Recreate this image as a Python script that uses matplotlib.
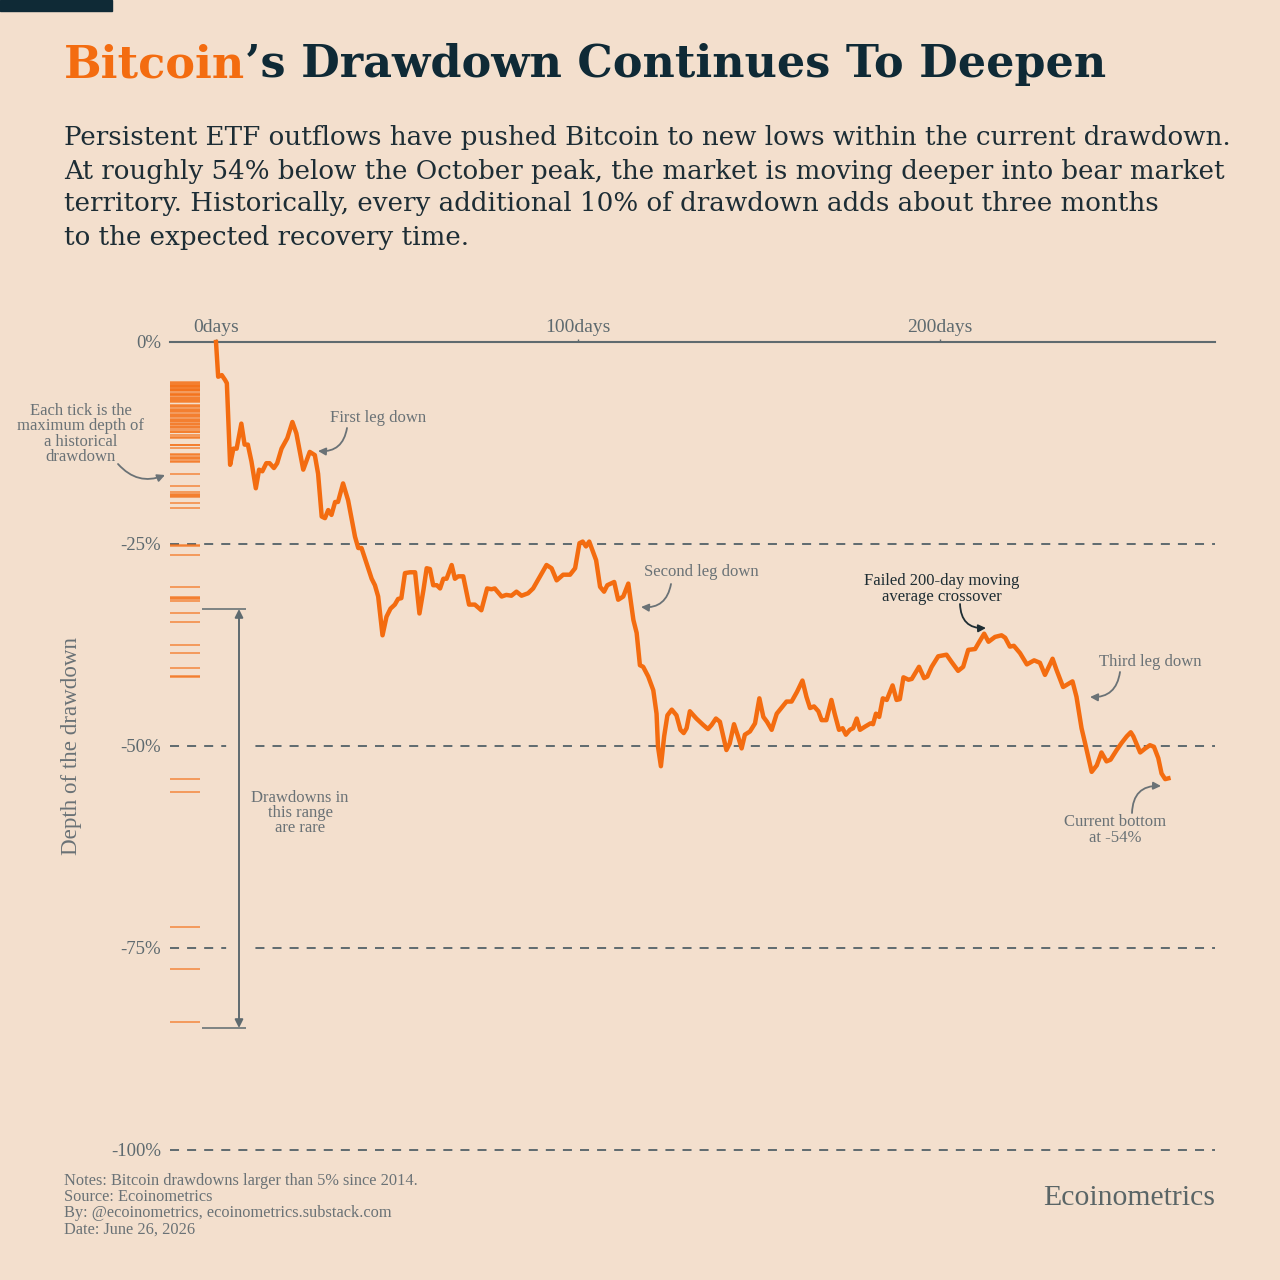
import matplotlib
matplotlib.use("Agg")
import matplotlib.pyplot as plt
from matplotlib.patches import Rectangle

# drawdown path of the current cycle (days since peak, % below peak)
days = [0, 0.6, 1.6, 2.5, 3.0, 3.9, 4.8, 5.7, 7.0, 7.9, 8.8, 9.8, 11.0, 11.9, 12.8,
        13.9, 14.8, 16.0, 16.9, 18.1, 19.7, 21.1, 22.2, 24.1, 25.9, 27.3, 28.2, 29.2,
        30.1, 31.0, 31.9, 32.9, 33.7, 35.1, 36.5, 38.4, 39.3, 40.2, 43.0, 43.9, 44.8,
        46.0, 47.1, 48.2, 49.4, 50.3, 51.2, 52.2, 53.6, 55.0, 56.2, 57.3, 58.2, 59.1,
        60.0, 61.0, 61.9, 62.8, 63.7, 65.1, 66.0, 66.9, 68.3, 69.9, 71.5, 73.3, 74.9,
        76.1, 77.0, 78.9, 80.2, 81.6, 83.0, 84.4, 86.2, 87.6, 89.5, 91.3, 92.7, 94.1,
        95.9, 97.8, 99.2, 100.4, 101.3, 102.2, 103.1, 105.0, 106.1, 107.2, 108.1, 110.0,
        111.1, 112.5, 113.9, 115.3, 116.2, 117.1, 118.0, 119.4, 120.8, 121.7, 122.1,
        122.9, 123.8, 124.7, 125.9, 127.2, 128.3, 129.2, 130.0, 130.9, 132.7, 134.6,
        135.9, 136.9, 138.1, 139.2, 141.0, 141.9, 143.1, 144.2, 145.2, 146.1, 147.5,
        148.9, 150.1, 151.2, 152.2, 153.5, 154.9, 156.5, 157.6, 159.0, 160.5, 162.0,
        163.1, 164.1, 165.2, 166.4, 167.3, 168.6, 170.0, 170.9, 172.1, 173.1, 174.0,
        175.1, 176.0, 177.0, 177.9, 179.3, 180.8, 181.5, 182.3, 183.2, 184.2, 185.3,
        186.9, 188.0, 188.9, 189.9, 191.3, 192.2, 194.2, 195.6, 196.5, 197.7, 199.5,
        201.8, 203.2, 205.0, 206.4, 207.8, 209.7, 210.6, 212.2, 213.4, 215.2, 217.0,
        218.0, 219.3, 220.4, 222.1, 224.0, 226.0, 227.6, 229.0, 231.1, 232.2, 234.0,
        236.6, 237.7, 239.1, 240.0, 241.9, 243.3, 244.6, 246.0, 247.1, 248.8, 250.2,
        251.6, 252.7, 253.4, 255.3, 256.7, 258.0, 259.1, 260.3, 261.2, 262.2, 263.1]
drawdown = [0, -4.3, -4.1, -4.7, -5.1, -15.2, -13.2, -13.2, -10.1, -12.7, -12.7, -14.8,
            -18.1, -15.8, -16.0, -15.0, -15.0, -15.6, -15.0, -13.2, -11.9, -9.9, -11.3,
            -15.8, -13.6, -14.0, -16.3, -21.6, -21.8, -20.8, -21.4, -19.8, -19.8, -17.5,
            -19.6, -24.1, -25.5, -25.5, -29.3, -30.1, -31.5, -36.3, -34.0, -33.0, -32.5,
            -31.8, -31.7, -28.6, -28.5, -28.5, -33.6, -30.7, -28.0, -28.1, -30.1, -30.1,
            -30.5, -29.3, -29.3, -27.6, -29.3, -29.0, -29.0, -32.5, -32.5, -33.2, -30.5,
            -30.6, -30.5, -31.5, -31.3, -31.4, -30.9, -31.4, -31.1, -30.5, -29.0, -27.6,
            -28.0, -29.5, -28.8, -28.8, -28.0, -24.9, -24.7, -25.3, -24.7, -27.0, -30.3,
            -30.9, -30.1, -29.7, -31.9, -31.5, -29.9, -34.4, -36.0, -40.0, -40.2, -41.4,
            -43.1, -46.0, -50.1, -52.5, -48.8, -46.2, -45.5, -46.2, -48.0, -48.4, -47.8,
            -45.7, -46.6, -47.4, -47.9, -47.4, -46.6, -47.0, -50.5, -49.7, -47.3, -48.8,
            -50.3, -48.6, -48.2, -47.2, -44.1, -46.4, -47.0, -48.0, -46.0, -45.1, -44.5,
            -44.5, -43.3, -41.9, -43.9, -45.3, -45.1, -45.7, -46.8, -46.8, -44.3, -46.0,
            -48.0, -47.8, -48.6, -48.0, -47.8, -46.6, -48.0, -47.6, -47.2, -47.3, -46.0,
            -46.4, -44.1, -44.3, -42.5, -44.3, -44.2, -41.5, -41.8, -41.7, -40.2, -41.6,
            -41.4, -40.2, -38.9, -38.7, -39.6, -40.7, -40.2, -38.1, -38.0, -37.3, -36.1,
            -37.1, -36.5, -36.3, -36.6, -37.7, -37.6, -38.5, -39.9, -39.4, -39.7, -41.2,
            -39.2, -40.6, -42.7, -42.0, -43.9, -47.8, -49.5, -53.2, -52.4, -50.8, -51.9,
            -51.7, -50.5, -49.6, -48.8, -48.3, -48.8, -50.8, -50.3, -49.9, -50.1, -51.5,
            -53.4, -54.1, -54.0]

# maximum depth of each historical drawdown (>5%, since 2014)
hist_depths = [-5.0, -5.1, -5.2, -5.3, -5.4, -5.5, -5.6, -5.7, -5.8, -5.9, -6.0, -6.1,
               -6.3, -6.4, -6.5, -6.6, -6.8, -6.9, -7.0, -7.2, -7.3, -7.4, -7.8, -7.9,
               -8.1, -8.3, -8.4, -8.6, -8.7, -8.9, -9.0, -9.2, -9.3, -9.5, -9.6, -9.8,
               -9.9, -10.1, -10.2, -10.4, -10.5, -10.7, -10.9, -11.1, -11.2, -11.5,
               -11.7, -11.9, -12.7, -12.8, -13.1, -13.9, -14.0, -14.2, -14.4, -14.5,
               -14.7, -14.9, -16.3, -17.8, -18.6, -18.8, -18.9, -19.1, -19.2, -19.9,
               -20.5, -25.1, -25.2, -26.4, -30.3, -31.5, -31.7, -31.8, -32.0, -33.6,
               -34.6, -37.5, -38.5, -40.3, -41.3, -41.4, -54.1, -55.7, -72.4, -77.6,
               -84.2]

y_ticks = [0, -25, -50, -75, -100]
y_labels = ["0%", "-25%", "-50%", "-75%", "-100%"]
x_ticks = [0, 100, 200]
x_labels = ["0days", "100days", "200days"]

BG = "#f3dfcd"
ORANGE = "#f36c10"
NAVY = "#0f2a36"
GRAY = "#5e6a6f"
TEXT_GRAY = "#6a7276"

plt.rcParams["font.family"] = ["Liberation Serif", "DejaVu Serif"]
plt.rcParams["lines.scale_dashes"] = False

W = 1280


def fx(px):
    return px / W


def fy(py):
    return 1 - py / W


# pixel -> data helpers for the annotation layout
def dx(px):
    return (px - 216) / 3.62


def dy(py):
    return -(py - 342) / 8.08


fig = plt.figure(figsize=(12.8, 12.8), dpi=100, facecolor=BG)
ax = fig.add_axes([fx(170), fy(1150), fx(1215) - fx(170), (1150 - 342) / W])
ax.set_facecolor(BG)
ax.set_xlim(dx(170), dx(1215))
ax.set_ylim(-100, 0)
for s in ax.spines.values():
    s.set_visible(False)

# grid
ax.axhline(0, color=GRAY, lw=1.5, clip_on=False, zorder=1)
for y in y_ticks[1:]:
    ax.axhline(y, color=GRAY, lw=1.4, ls=(0, (6.5, 5.8)), clip_on=False, zorder=1)

# historical drawdown ticks
ax.hlines(hist_depths, dx(170), dx(200), color=ORANGE, alpha=0.6, lw=1.4, zorder=3)

# rare range bracket
arrow_x = dx(239)
ax.plot([arrow_x, arrow_x], [dy(640), dy(1000)], color=BG, lw=18.5,
        solid_capstyle="butt", zorder=2)
ax.hlines([dy(609), dy(1028)], dx(202), dx(246), color=GRAY, lw=1.1, zorder=3)
ax.annotate("", xy=(arrow_x, dy(609)), xytext=(arrow_x, dy(1028)),
            arrowprops=dict(arrowstyle="<|-|>", color=GRAY, lw=1.4,
                            shrinkA=0, shrinkB=0, mutation_scale=12), zorder=3)
ax.text(dx(300), dy(813), "Drawdowns in\nthis range\nare rare", ha="center",
        va="center", fontsize=12, color=TEXT_GRAY, linespacing=0.95)

# main line
ax.plot(days, drawdown, color=ORANGE, lw=3.2, zorder=5, clip_on=False,
        solid_joinstyle="round")

# axes ticks
ax.set_yticks(y_ticks)
ax.set_yticklabels(y_labels)
ax.tick_params(axis="y", length=0, pad=6.5, labelsize=13.5, labelcolor=GRAY)
ax.xaxis.tick_top()
ax.set_xticks(x_ticks)
ax.set_xticklabels(x_labels)
ax.tick_params(axis="x", length=2.5, width=1, color=GRAY, pad=1.5,
               labelsize=14, labelcolor=GRAY)


# annotations
def note(txt, tip, start, tx, ty, rad, color=TEXT_GRAY, ha="left"):
    ax.annotate(txt, xy=(dx(tip[0]), dy(tip[1])), xytext=(dx(tx), dy(ty)),
                ha=ha, va="center", fontsize=12, color=color, linespacing=0.95,
                annotation_clip=False)
    ax.annotate("", xy=(dx(tip[0]), dy(tip[1])), xytext=(dx(start[0]), dy(start[1])),
                arrowprops=dict(arrowstyle="-|>", color=color, lw=1.3,
                                connectionstyle=f"arc3,rad={rad}", shrinkA=0,
                                shrinkB=0, mutation_scale=11),
                annotation_clip=False)


note("Each tick is the\nmaximum depth of\na historical\ndrawdown", (165, 475),
     (118, 464), 81, 434, 0.35, ha="center")
note("First leg down", (318, 451), (347, 428), 330, 418, -0.45)
note("Second leg down", (641, 607), (671, 584), 644, 572, -0.45)
note("Failed 200-day moving\naverage crossover", (986, 628), (960, 604), 942, 589,
     0.5, color="#1e2d33", ha="center")
note("Third leg down", (1090, 697), (1120, 672), 1099, 662, -0.45)
note("Current bottom\nat -54%", (1161, 786), (1132, 813), 1115, 830, -0.5,
     ha="center")

fig.text(fx(72), fy(746), "Depth of the drawdown", rotation=90, ha="center",
         va="center", fontsize=16.6, color=TEXT_GRAY)

# header
fig.patches.append(Rectangle((0, fy(11)), fx(112), 11 / W, transform=fig.transFigure,
                             color=NAVY, zorder=5))
t1 = fig.text(fx(64), fy(77), "Bitcoin", fontsize=32, fontweight="bold",
              color=ORANGE, va="baseline", family="DejaVu Serif")
ax.annotate("\u2019s Drawdown Continues To Deepen", xy=(1, 0), xycoords=t1,
            ha="left", va="bottom", fontsize=32, fontweight="bold", color=NAVY,
            family="DejaVu Serif", annotation_clip=False)

subtitle = [
    "Persistent ETF outflows have pushed Bitcoin to new lows within the current drawdown.",
    "At roughly 54% below the October peak, the market is moving deeper into bear market",
    "territory. Historically, every additional 10% of drawdown adds about three months",
    "to the expected recovery time.",
]
for i, line in enumerate(subtitle):
    fig.text(fx(64), fy(138 + 33 * i), line, fontsize=18.8, color="#1d2d35",
             va="center", family="DejaVu Serif")

notes = [
    "Notes: Bitcoin drawdowns larger than 5% since 2014.",
    "Source: Ecoinometrics",
    "By: @ecoinometrics, ecoinometrics.substack.com",
    "Date: June 26, 2026",
]
for i, line in enumerate(notes):
    fig.text(fx(64), fy(1181 + 16.2 * i), line, fontsize=11.8, color=TEXT_GRAY,
             va="center")

fig.text(fx(1215), fy(1198), "Ecoinometrics", fontsize=21.4, color="#5a6566",
         ha="right", va="center")

fig.savefig("out.png", dpi=100, facecolor=BG)
